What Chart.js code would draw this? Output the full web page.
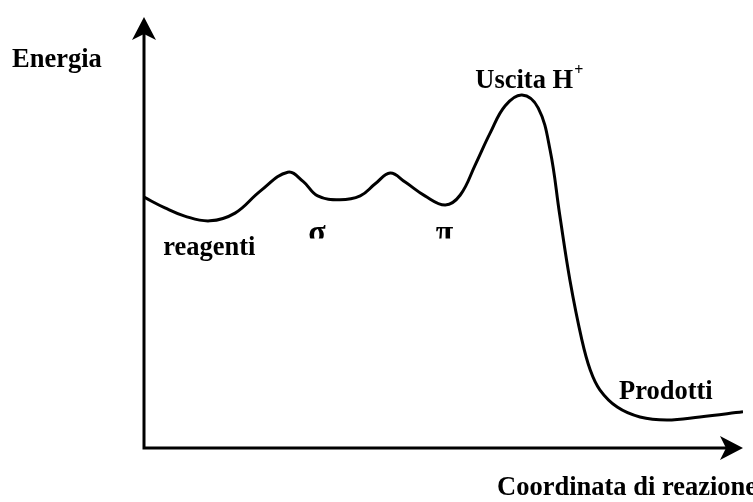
<!DOCTYPE html>
<html>
<head>
<meta charset="utf-8">
<script src="https://cdn.jsdelivr.net/npm/chart.js@4.4.0/dist/chart.umd.min.js"></script>
<style>
  body { margin: 0; background: #fff; }
  canvas { display: block; }
</style>
</head>
<body>
<canvas id="myChartEnergy" width="753" height="502"></canvas>
<script>
// Reaction coordinate (0..100) and energy (0..100)
var coordX = [0, 3.5, 6.8, 11.0, 15.2, 19.4, 24.0, 26.6, 29.0, 32.7, 36.1, 38.6, 41.1, 43.6, 46.9, 50.3,
    52.8, 55.3, 57.8, 60.3, 63.1, 65.8, 67.8, 69.4, 71.1, 73.1, 74.5, 76.1, 79.0, 82.8, 87.3, 92.8, 100];
var energyY = [58.2, 55.7, 53.8, 52.7, 54.5, 59.6, 64.0, 61.8, 58.5, 57.6, 58.5, 61.3, 63.8, 61.7, 58.5, 56.4,
    58.7, 65.7, 73.1, 79.4, 81.9, 78.9, 69.1, 54.1, 39.0, 25.1, 18.1, 13.5, 9.5, 7.2, 6.5, 7.2, 8.4];

// text labels on the diagram, in data units
var labelTexts = ['reagenti', 'Uscita H', 'Prodotti'];
var labelX = [3.2, 55.3, 79.3];
var labelY = [44.8, 83.5, 11.3];

// greek letters under the two small minima (cut at the bottom like the original)
var greekTexts = ['σ', 'π'];
var greekX = [27.4, 48.7];

const points = coordX.map(function (x, i) { return { x: x, y: energyY[i] }; });

const data = {
    datasets: [{
        label: 'Energia',
        data: points,
        borderColor: '#000',
        borderWidth: 3,
        pointRadius: 0,
        fill: false,
        tension: 0.4
    }]
};

const FONT = 'bold 26.5px "Liberation Serif", "Times New Roman", serif';

function arrowHead(ctx, tipX, tipY, dirX, dirY) {
    // notched arrow head like the original drawing
    const len = 23, half = 12, notch = 6;
    const px = -dirY, py = dirX;
    ctx.beginPath();
    ctx.moveTo(tipX, tipY);
    ctx.lineTo(tipX - dirX * len + px * half, tipY - dirY * len + py * half);
    ctx.lineTo(tipX - dirX * (len - notch), tipY - dirY * (len - notch));
    ctx.lineTo(tipX - dirX * len - px * half, tipY - dirY * len - py * half);
    ctx.closePath();
    ctx.fill();
}

// axes with arrows + labels
const diagramPlugin = {
    id: 'diagram',
    beforeDatasetsDraw(chart) {
        const ctx = chart.ctx;
        const xs = chart.scales.x, ys = chart.scales.y;
        const x0 = xs.getPixelForValue(0), y0 = ys.getPixelForValue(0);
        const xEnd = xs.getPixelForValue(100), yEnd = ys.getPixelForValue(100);
        ctx.save();
        ctx.strokeStyle = '#000';
        ctx.fillStyle = '#000';
        ctx.lineWidth = 3;
        ctx.lineCap = 'square';
        ctx.beginPath();
        ctx.moveTo(x0, yEnd + 10);
        ctx.lineTo(x0, y0);
        ctx.lineTo(xEnd - 10, y0);
        ctx.stroke();
        arrowHead(ctx, x0, yEnd, 0, -1);
        arrowHead(ctx, xEnd, y0, 1, 0);
        ctx.restore();
    },
    afterDraw(chart) {
        const ctx = chart.ctx;
        const xs = chart.scales.x, ys = chart.scales.y;
        ctx.save();
        ctx.fillStyle = '#000';
        ctx.font = FONT;
        ctx.textBaseline = 'alphabetic';
        ctx.fillText('Energia', 12, 67);
        ctx.fillText('Coordinata di reazione', 497, 495);
        for (let i = 0; i < labelTexts.length; i++) {
            ctx.fillText(labelTexts[i], xs.getPixelForValue(labelX[i]), ys.getPixelForValue(labelY[i]));
        }
        // superscript +
        const hx = xs.getPixelForValue(labelX[1]) + ctx.measureText(labelTexts[1]).width + 1;
        ctx.font = 'bold 16px "Liberation Serif", serif';
        ctx.fillText('+', hx, ys.getPixelForValue(labelY[1]) - 13);
        // greek letters, cut at the bottom
        const clipY = ys.getPixelForValue(48.6);
        ctx.beginPath();
        ctx.rect(0, 0, chart.width, clipY);
        ctx.clip();
        ctx.font = 'bold 32px "Liberation Serif", serif';
        for (let i = 0; i < greekTexts.length; i++) {
            ctx.fillText(greekTexts[i], xs.getPixelForValue(greekX[i]), clipY + 3);
        }
        ctx.restore();
    }
};

const configEnergy = {
    type: 'line',
    data,
    options: {
        responsive: false,
        animation: false,
        layout: { padding: { left: 144, right: 10, top: 17, bottom: 54 } },
        plugins: { legend: { display: false }, tooltip: { enabled: false } },
        scales: {
            x: { type: 'linear', min: 0, max: 100, display: false },
            y: { min: 0, max: 100, display: false }
        }
    },
    plugins: [diagramPlugin]
};

let myChartEnergy = new Chart(document.getElementById('myChartEnergy'), configEnergy);
</script>
</body>
</html>
